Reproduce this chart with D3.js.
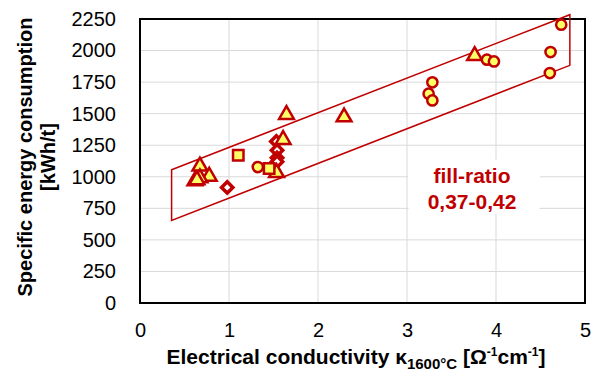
<!DOCTYPE html>
<html>
<head>
<meta charset="utf-8">
<script src="https://cdn.jsdelivr.net/npm/d3@7"></script>
<style>
  body { margin: 0; background: #fff; }
  text { font-family: "Liberation Sans", Arial, sans-serif; }
</style>
</head>
<body>
<svg id="chart" width="599" height="385"></svg>
<script>
// data
var xTicks = [0, 1, 2, 3, 4, 5];
var yTicks = [0, 250, 500, 750, 1000, 1250, 1500, 1750, 2000, 2250];

var circleX = [4.733, 4.613, 4.605, 3.898, 3.977, 3.285, 3.243, 3.285, 1.324];
var circleY = [2205, 1988, 1822, 1928, 1914, 1748, 1658, 1605, 1077];

var triangleX = [3.76, 1.646, 2.293, 1.608, 0.673, 0.778, 0.673, 0.617, 0.64, 1.534];
var triangleY = [1959, 1492, 1473, 1294, 1083, 1003, 990, 966, 975, 1032];

var squareX = [1.104, 1.451];
var squareY = [1170, 1065];

var diamondX = [0.98, 1.532, 1.54, 1.54, 1.54];
var diamondY = [916, 1280, 1210, 1150, 1120];

// band around the points
var bandX = [0.355, 4.83, 4.83, 0.355];
var bandY = [1056, 2284, 1883, 654];

var labelLines = ["fill-ratio", "0,37-0,42"];

var red = "#c00000", yellow = "#ffff66";

var svg = d3.select("#chart");
var margin = { left: 140, right: 14, top: 19, bottom: 82 };
var width = 599 - margin.left - margin.right,
    height = 385 - margin.top - margin.bottom;

var x = d3.scaleLinear().domain([0, 5]).range([0, width]);
var y = d3.scaleLinear().domain([0, 2250]).range([height, 0]);

var g = svg.append("g").attr("transform", "translate(" + margin.left + "," + margin.top + ")");

// gridlines
g.append("g").selectAll("line").data(xTicks.slice(1, -1)).enter().append("line")
    .attr("x1", d => x(d)).attr("x2", d => x(d))
    .attr("y1", 0).attr("y2", height)
    .attr("stroke", "#d9d9d9").attr("stroke-width", 1);
g.append("g").selectAll("line").data(yTicks.slice(1, -1)).enter().append("line")
    .attr("x1", 0).attr("x2", width)
    .attr("y1", d => y(d)).attr("y2", d => y(d))
    .attr("stroke", "#d9d9d9").attr("stroke-width", 1);

// white box behind the label
g.append("rect")
    .attr("x", x(3) + 1).attr("y", y(1135))
    .attr("width", 132).attr("height", 54)
    .attr("rx", 8)
    .attr("fill", "#fff");

// axes (labels only)
var xAxis = g.append("g").attr("transform", "translate(0," + height + ")")
    .call(d3.axisBottom(x).tickValues(xTicks).tickFormat(d3.format("d")).tickSize(0).tickPadding(20));
var yAxis = g.append("g")
    .call(d3.axisLeft(y).tickValues(yTicks).tickFormat(d3.format("d")).tickSize(0).tickPadding(24));
[xAxis, yAxis].forEach(function (a) {
    a.select(".domain").remove();
    a.selectAll("text")
        .style("font-family", "'Liberation Sans', Arial, sans-serif")
        .style("font-size", "20px")
        .attr("fill", "#000");
});

// plot border
g.append("rect")
    .attr("x", 0).attr("y", 0).attr("width", width).attr("height", height)
    .attr("fill", "none").attr("stroke", "#000").attr("stroke-width", 2);

// band
var band = bandX.map((d, i) => [x(d), y(bandY[i])]);
g.append("path")
    .attr("d", d3.line()(band) + "Z")
    .attr("fill", "none").attr("stroke", red).attr("stroke-width", 1.5);

// markers
function drawSymbols(xs, ys, type, size, fill, sw, rot) {
    g.append("g").selectAll("path").data(xs).enter().append("path")
        .attr("transform", (d, i) => "translate(" + x(d) + "," + y(ys[i]) + ") rotate(" + rot + ")")
        .attr("d", d3.symbol().type(type).size(size))
        .attr("fill", fill)
        .attr("stroke", red)
        .attr("stroke-width", sw);
}
drawSymbols(diamondX, diamondY, d3.symbolSquare, 64, "#fff", 3.5, 45);
drawSymbols(triangleX, triangleY, d3.symbolTriangle, 95, yellow, 2.5, 0);
drawSymbols(squareX, squareY, d3.symbolSquare, 110, yellow, 2.5, 0);
drawSymbols(circleX, circleY, d3.symbolCircle, 82, yellow, 2.5, 0);

// label
g.append("g").selectAll("text").data(labelLines).enter().append("text")
    .attr("x", x(3) + 65).attr("y", (d, i) => 164 + i * 26)
    .attr("text-anchor", "middle")
    .attr("fill", red)
    .style("font-size", "21px").style("font-weight", "bold")
    .text(d => d);

// x axis title
var xt = svg.append("text")
    .attr("x", 356).attr("y", 364)
    .attr("text-anchor", "middle")
    .style("font-size", "21px").style("font-weight", "bold");
xt.append("tspan").text("Electrical conductivity κ");
xt.append("tspan").attr("dy", 5).style("font-size", "15px").text("1600°C");
xt.append("tspan").attr("dy", -5).text(" [Ω");
xt.append("tspan").attr("dy", -8).style("font-size", "12px").text("-1");
xt.append("tspan").attr("dy", 8).text("cm");
xt.append("tspan").attr("dy", -8).style("font-size", "12px").text("-1");
xt.append("tspan").attr("dy", 8).text("]");

// y axis title
var yt = svg.append("text")
    .attr("transform", "translate(32,157) rotate(-90)")
    .attr("text-anchor", "middle")
    .style("font-size", "20px").style("font-weight", "bold");
yt.append("tspan").attr("x", 0).attr("y", 0).text("Specific energy consumption");
yt.append("tspan").attr("x", 0).attr("y", 23).text("[kWh/t]");
</script>
</body>
</html>
